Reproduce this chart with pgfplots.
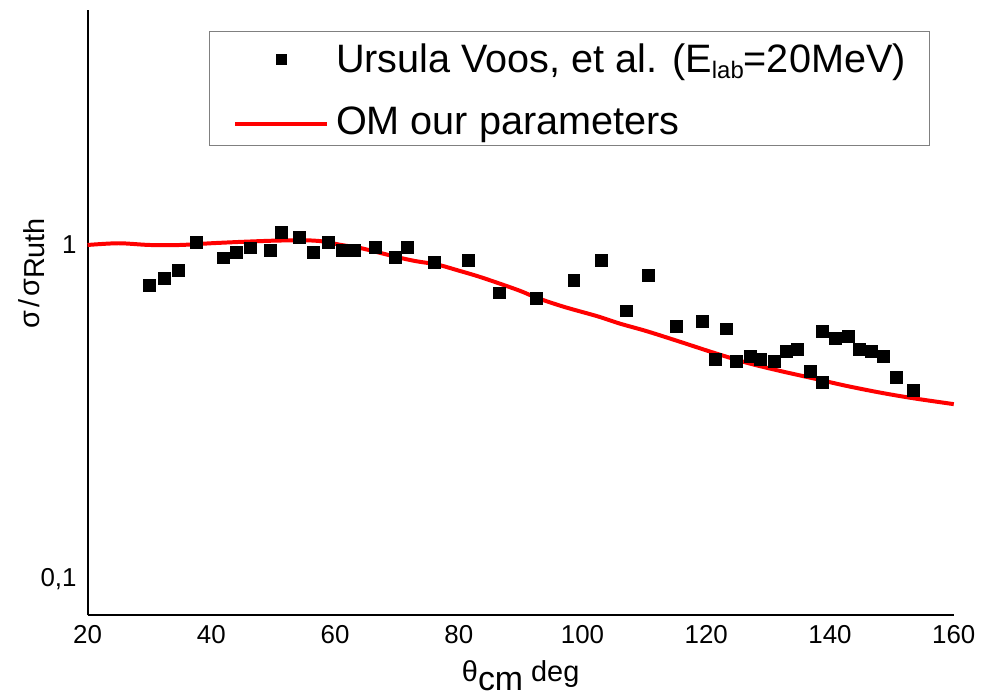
\documentclass[border=0pt]{standalone}
\usepackage{fontspec}
\setmainfont{Liberation Sans}
\usepackage{pgfplots}
\pgfplotsset{compat=1.18}

\begin{document}
\begin{tikzpicture}
\begin{axis}[
  scale only axis, width=435pt, height=304pt,
  ymode=log, xmin=20, xmax=160, ymin=0.078, ymax=5.05,
  axis x line*=bottom, axis y line*=left,
  axis line style={line width=1pt, black, -},
  xtick={20,40,...,160}, ytick={0.1,1}, yticklabels={{0,1},{1}},
  minor ytick={}, major tick length=0pt, minor tick length=0pt,
  /pgf/number format/assume math mode=true,
  tick label style={font=\fontsize{13}{13}\selectfont},
  xticklabel style={yshift=-1.5pt},
  yticklabel style={xshift=-2pt},
  clip=false,
  xlabel={θ\raisebox{-4.5pt}{\fontsize{17}{17}\selectfont cm} deg},
  xlabel style={at={(rel axis cs:0.5,-0.109)}, anchor=base, font=\fontsize{14.5}{14.5}\selectfont},
  ylabel={σ\kern1.5pt/\kern1.5pt σ\raisebox{-2.5pt}{Ruth}},
  ylabel style={at={(rel axis cs:-0.0552,0.565)}, anchor=base, font=\fontsize{14.5}{14.5}\selectfont},
  legend cell align=left,
  legend style={at={(rel axis cs:0.1402,0.9655)}, anchor=north west,
    draw=gray, line width=0.6pt, font=\fontsize{19.9}{19.9}\selectfont,
    inner xsep=12pt, inner ysep=3.4pt, row sep=12.6pt,
    nodes={inner sep=0pt, text height=17pt, text depth=2pt}},
]
\path (rel axis cs:-0.1011,-0.1266) rectangle (rel axis cs:1.0276,1.0164);

\addplot[only marks, mark=square*, mark size=3pt, black,
  legend image code/.code={\fill[black] (20.5pt,-3.6pt) rectangle (25.5pt,1.4pt); \path (0pt,0pt) (49.5pt,0pt);}]
coordinates {
(30.0,0.756) (32.4,0.797) (34.7,0.840) (37.6,1.019) (42.0,0.915) (44.0,0.951)
(46.3,0.980) (49.6,0.964) (51.3,1.091) (54.2,1.054) (56.5,0.951) (58.9,1.019)
(61.2,0.964) (63.2,0.964) (66.5,0.984) (69.7,0.919) (71.7,0.982) (76.0,0.886)
(81.5,0.900) (86.5,0.719) (92.6,0.693) (98.6,0.782) (103.0,0.900) (107.1,0.635)
(110.6,0.810) (115.2,0.570) (119.3,0.590) (123.2,0.561) (121.4,0.455) (124.9,0.447)
(127.2,0.464) (128.7,0.455) (131.0,0.447) (133.0,0.479) (134.7,0.487) (136.8,0.418)
(138.8,0.550) (138.8,0.388) (140.9,0.524) (142.9,0.534) (144.8,0.487) (146.7,0.479)
(148.7,0.463) (150.8,0.402) (153.4,0.368)
};
\addlegendentry{Ursula Voos, et al. (E\raisebox{-3pt}{\fontsize{12}{12}\selectfont lab}=20MeV)}

\addplot[red, line width=2pt, smooth,
  legend image code/.code={\draw[red, line width=2pt] (0pt,-1.9pt) -- (46pt,-1.9pt); \path (0pt,0pt) (49.5pt,0pt);}]
coordinates {
(20,1.0) (25,1.012) (30,1.0) (35,1.0) (40,1.012) (45,1.022) (50,1.03) (55,1.033)
(58,1.025) (61,1.0) (64,0.98) (67,0.95) (70,0.92) (73,0.895) (76.6,0.873)
(80,0.838) (83.1,0.806) (86.3,0.77) (90,0.728) (92.6,0.695) (97,0.653)
(102.4,0.612) (106,0.582) (110.4,0.552) (115.8,0.513) (121.2,0.476) (126.6,0.444)
(131.9,0.42) (137.3,0.399) (142.6,0.379) (148,0.362) (153.4,0.348) (160,0.334)
};
\addlegendentry{OM our parameters}
\end{axis}
\end{tikzpicture}
\end{document}
